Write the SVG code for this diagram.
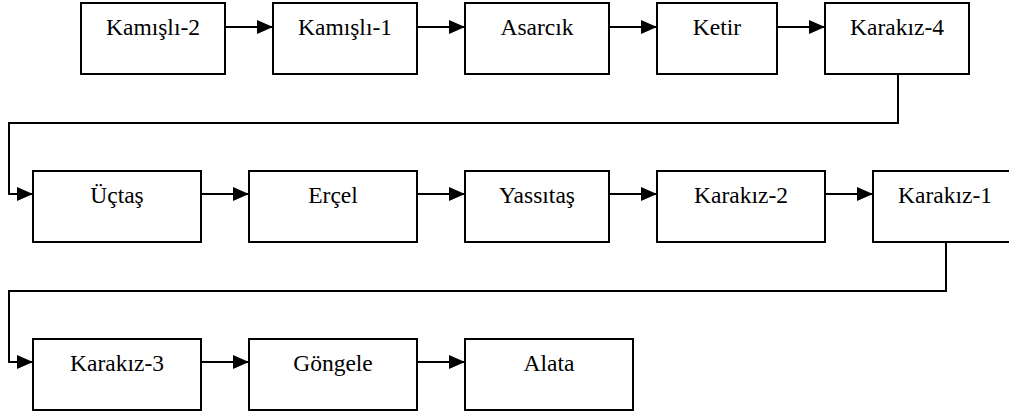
<svg xmlns="http://www.w3.org/2000/svg" width="1009" height="416" viewBox="0 0 1009 416">
<style>
.box{fill:#fff;stroke:#000;stroke-width:2}
.lbl{font-family:"Liberation Serif","DejaVu Serif",serif;font-size:23.5px;fill:#000;text-anchor:middle}
.con{fill:none;stroke:#000;stroke-width:2;marker-end:url(#arr)}
</style>
<defs>
<marker id="arr" markerUnits="userSpaceOnUse" markerWidth="18" markerHeight="16" refX="16" refY="7" orient="auto">
<path d="M0,0 L16,7 L0,14 z" fill="#000"/>
</marker>
</defs>
<rect width="1009" height="416" fill="#fff"/>
<g id="connectors">
<line class="con" x1="225" y1="27" x2="273" y2="27"/>
<line class="con" x1="417" y1="27" x2="465" y2="27"/>
<line class="con" x1="609" y1="27" x2="657" y2="27"/>
<line class="con" x1="777" y1="27" x2="825" y2="27"/>
<polyline class="con" points="898,74 898,123 9,123 9,194 33,194"/>
<line class="con" x1="201" y1="194" x2="249" y2="194"/>
<line class="con" x1="417" y1="194" x2="465" y2="194"/>
<line class="con" x1="609" y1="194" x2="657" y2="194"/>
<line class="con" x1="825" y1="194" x2="873" y2="194"/>
<polyline class="con" points="946,242 946,291 9,291 9,362 33,362"/>
<line class="con" x1="201" y1="362" x2="249" y2="362"/>
<line class="con" x1="417" y1="362" x2="465" y2="362"/>
</g>
<g id="kamisli2"><rect class="box" x="81" y="3" width="144" height="71"/><text class="lbl" x="153" y="35">Kamışlı-2</text></g>
<g id="kamisli1"><rect class="box" x="273" y="3" width="144" height="71"/><text class="lbl" x="345" y="35">Kamışlı-1</text></g>
<g id="asarcik"><rect class="box" x="465" y="3" width="144" height="71"/><text class="lbl" x="537" y="35">Asarcık</text></g>
<g id="ketir"><rect class="box" x="657" y="3" width="120" height="71"/><text class="lbl" x="717" y="35">Ketir</text></g>
<g id="karakiz4"><rect class="box" x="825" y="3" width="144" height="71"/><text class="lbl" x="897" y="35">Karakız-4</text></g>
<g id="uctas"><rect class="box" x="33" y="171" width="168" height="71"/><text class="lbl" x="117" y="203">Üçtaş</text></g>
<g id="ercel"><rect class="box" x="249" y="171" width="168" height="71"/><text class="lbl" x="333" y="203">Erçel</text></g>
<g id="yassitas"><rect class="box" x="465" y="171" width="144" height="71"/><text class="lbl" x="537" y="203">Yassıtaş</text></g>
<g id="karakiz2"><rect class="box" x="657" y="171" width="168" height="71"/><text class="lbl" x="741" y="203">Karakız-2</text></g>
<g id="karakiz1"><rect class="box" x="873" y="171" width="144" height="71"/><text class="lbl" x="945" y="203">Karakız-1</text></g>
<g id="karakiz3"><rect class="box" x="33" y="339" width="168" height="71"/><text class="lbl" x="117" y="371">Karakız-3</text></g>
<g id="gongele"><rect class="box" x="249" y="339" width="168" height="71"/><text class="lbl" x="333" y="371">Göngele</text></g>
<g id="alata"><rect class="box" x="465" y="339" width="168" height="71"/><text class="lbl" x="549" y="371">Alata</text></g>
</svg>
